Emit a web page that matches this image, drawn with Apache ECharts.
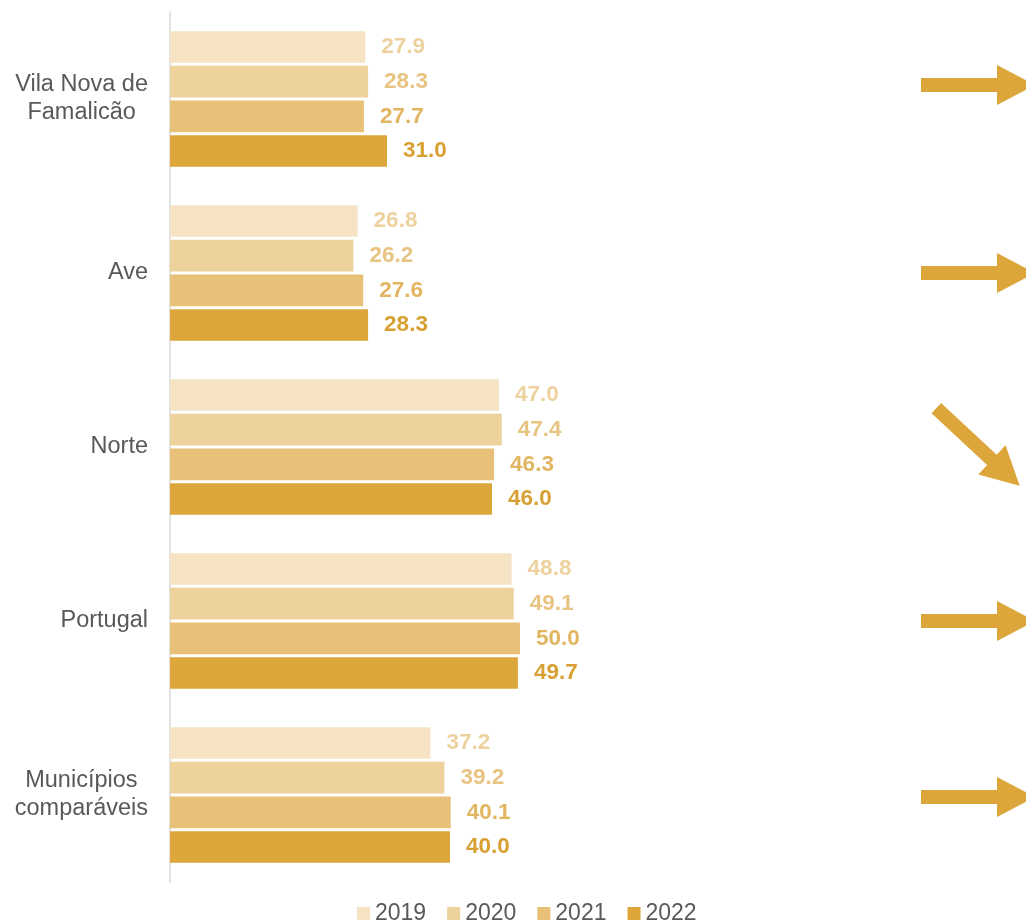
<!DOCTYPE html>
<html><head><meta charset="utf-8">
<script src="https://cdn.jsdelivr.net/npm/echarts@6/dist/echarts.min.js"></script>
<style>html,body{margin:0;padding:0;background:#fff}#c{width:1026px;height:922px}</style>
</head><body><div id="c"></div>
<script>
var categories = ['Vila Nova de\nFamalicão', 'Ave', 'Norte', 'Portugal', 'Municípios\ncomparáveis'];
var years = ['2019', '2020', '2021', '2022'];
var v2019 = [27.9, 26.8, 47.0, 48.8, 37.2];
var v2020 = [28.3, 26.2, 47.4, 49.1, 39.2];
var v2021 = [27.7, 27.6, 46.3, 50.0, 40.1];
var v2022 = [31.0, 28.3, 46.0, 49.7, 40.0];
// trend arrows: angle in degrees below horizontal (0 = stable, 43 = descending)
var trendAngles = [0, 0, 43, 0, 0];
var arrowShiftY = [-14, 0, 0, 0, 2];

var FONT = "'Liberation Sans', Arial, sans-serif";
var barColors = ['#F5E3C3', '#EED29C', '#E8C077', '#DDA63A'];
var labelColors = ['#EDD2A0', '#E8C483', '#E2B561', '#D8A033'];
var values = [v2019, v2020, v2021, v2022];

var chart = echarts.init(document.getElementById('c'));
var series = years.map(function (y, i) {
  return {
    name: y, type: 'bar', data: values[i],
    barGap: '10%', barCategoryGap: '22%',
    itemStyle: { color: barColors[i] },
    label: {
      show: true, position: 'right', distance: 16,
      formatter: function (p) { return p.value.toFixed(1); },
      color: labelColors[i], fontWeight: 'bold', fontSize: 22.5,
      fontFamily: FONT
    }
  };
});

chart.setOption({
  animation: false,
  grid: { left: 170, right: 16, top: 12, bottom: 40 },
  xAxis: { type: 'value', min: 0, max: 120, show: false },
  yAxis: {
    type: 'category', data: categories, inverse: true,
    axisLine: { show: true, lineStyle: { color: '#D9D9D9', width: 1.5 } },
    axisTick: { show: false },
    axisLabel: {
      margin: 22, align: 'right',
      formatter: function (v) {
        return v.split('\n').map(function (l) { return '{c|' + l + '}'; }).join('\n');
      },
      rich: {
        c: { align: 'center', fontSize: 23.5, lineHeight: 28, color: '#595959', fontFamily: FONT }
      }
    }
  },
  legend: {
    top: 897, left: 352, icon: 'rect', itemWidth: 13, itemHeight: 13, itemGap: 21,
    data: years,
    textStyle: { fontSize: 23, color: '#595959', fontFamily: FONT }
  },
  series: series
});

var arrowPts = [[-57, -7], [19, -7], [19, -20], [57, 0], [19, 20], [19, 7], [-57, 7]];
var graphics = categories.map(function (c, i) {
  var y = chart.convertToPixel({ yAxisIndex: 0 }, c) + arrowShiftY[i];
  return {
    type: 'polygon', x: 978, y: y,
    rotation: -trendAngles[i] * Math.PI / 180,
    shape: { points: arrowPts },
    style: { fill: '#DDA63A' }
  };
});
chart.setOption({ graphic: graphics });
</script></body></html>
